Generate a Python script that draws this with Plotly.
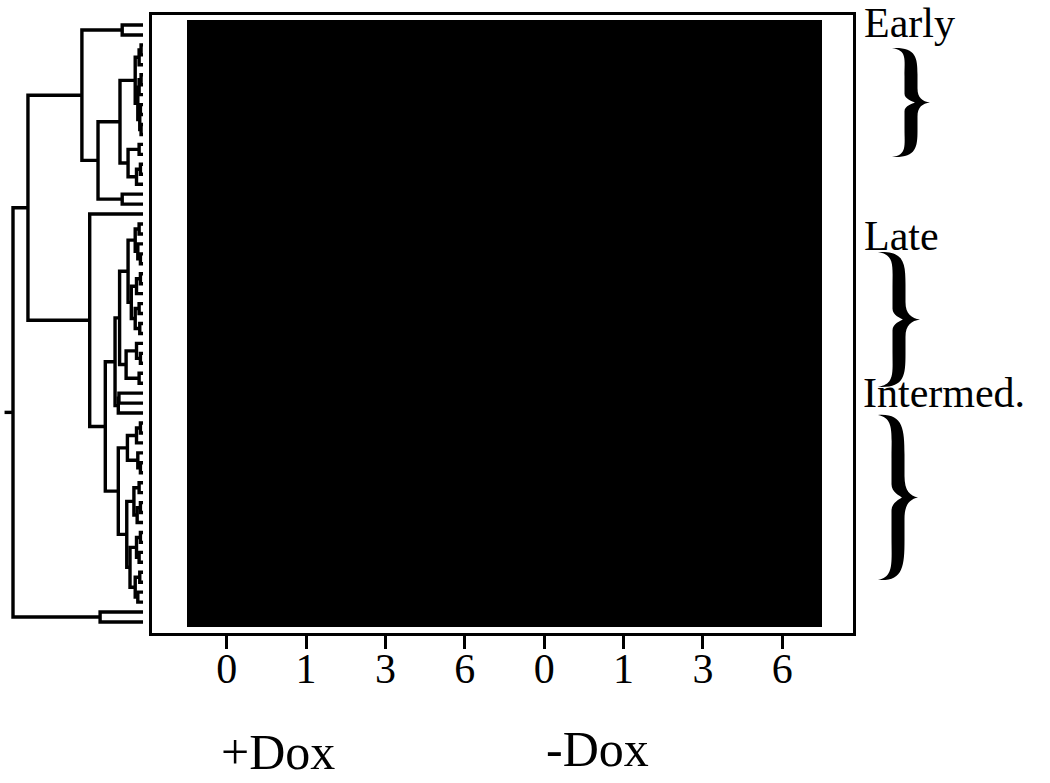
import plotly.graph_objects as go

# ---- data -------------------------------------------------------------
# time points (days) of the two treatment arms, in column order
TIME_LABELS = ["0", "1", "3", "6", "0", "1", "3", "6"]
TREATMENTS = ["+Dox", "-Dox"]
CLUSTER_NAMES = ["Early", "Late", "Intermed."]

# expression level shown in every cell (fully saturated)
CELL_LEVEL = 1.0

# gene tree: each node is [merge distance, upper child, lower child]; 0 = one gene
EARLY_TOP = [0.16, 0, 0]
EARLY_A = [0.06,
           [0.03, [0.015, 0, 0], 0],
           [0.04, [0.03, [0.015, 0, 0], 0], [0.025, [0.02, 0, 0], [0.015, 0, 0]]]]
EARLY_B = [0.115, [0.03, 0, 0], [0.05, [0.02, 0, 0], 0]]
EARLY_C = [0.16, 0, 0]
EARLY = [0.47, EARLY_TOP, [0.346, [0.177, EARLY_A, EARLY_B], EARLY_C]]

LATE_P = [0.115,
          [0.06, [0.03, 0, 0], [0.04, 0, [0.02, 0, 0]]],
          [0.09, [0.05, [0.02, 0, 0], 0], [0.06, [0.03, 0, 0], [0.025, 0, 0]]]]
LATE_Q = [0.13, [0.05, 0, [0.02, 0, 0]], [0.03, 0, 0]]
LATE_R = [0.19, [0.185, 0, 0], 0]
LATE = [0.215, [0.18, LATE_P, LATE_Q], LATE_R]

INTER_R = [0.12, [0.05, [0.02, 0, 0], 0], [0.04, 0, [0.02, 0, 0]]]
INTER_S = [0.125,
           [0.07, [0.03, 0, 0], [0.045, [0.02, 0, 0], 0]],
           [0.1, [0.05, [0.02, 0, 0], [0.03, 0, 0]], [0.06, [0.025, 0, 0], [0.04, 0, 0]]]]
INTERMED = [0.19, INTER_R, INTER_S]

OUTLIERS = [0.33, 0, 0]
TREE = [1.0, [0.885, EARLY, [0.41, 0, [0.29, LATE, INTERMED]]], OUTLIERS]


# ---- dendrogram geometry ----------------------------------------------
def walk(node, counter, xs, ys):
    """Place leaves top to bottom; return (row position, merge distance)."""
    if node == 0:
        pos = counter[0]
        counter[0] += 1
        return pos, 0.0
    h, upper, lower = node
    y1, h1 = walk(upper, counter, xs, ys)
    y2, h2 = walk(lower, counter, xs, ys)
    xs += [h1, h, h, h2, None]
    ys += [y1, y1, y2, y2, None]
    return (y1 + y2) / 2.0, h


seg_x, seg_y = [], []
leaf_counter = [0]
root_y, root_h = walk(TREE, leaf_counter, seg_x, seg_y)
n_genes = leaf_counter[0]
seg_x += [root_h, root_h + 0.065, None]
seg_y += [root_y, root_y, None]

z = [[CELL_LEVEL] * len(TIME_LABELS) for _ in range(n_genes)]

# ---- figure geometry (pixels) -----------------------------------------
W, H = 1050, 783
BOX_L, BOX_R, BOX_T, BOX_B = 152, 853, 15, 633
MAP_L, MAP_R, MAP_T, MAP_B = 187, 822, 20, 627
col_w = (MAP_R - MAP_L) / len(TIME_LABELS)
row_h = (MAP_B - MAP_T) / n_genes

x_range = [-0.5 - (MAP_L - BOX_L) / col_w, len(TIME_LABELS) - 0.5 + (BOX_R - MAP_R) / col_w]
y_range = [n_genes - 0.5 + (BOX_B - MAP_B) / row_h, -0.5 - (MAP_T - BOX_T) / row_h]

FONT = "Liberation Serif"

fig = go.Figure()
fig.add_trace(go.Heatmap(
    z=z, x=list(range(len(TIME_LABELS))), y=list(range(n_genes)),
    colorscale=[[0, "#000000"], [1, "#000000"]], zmin=0, zmax=1,
    showscale=False, hoverinfo="skip", xaxis="x", yaxis="y"))
fig.add_trace(go.Scatter(
    x=seg_x, y=seg_y, mode="lines", line=dict(color="black", width=3.4),
    hoverinfo="skip", showlegend=False, xaxis="x2", yaxis="y"))


def px_x(p):
    return p / W


def px_y(p):
    return 1 - p / H


def brace_path(x0, yt, yb, w, t):
    """Filled curly brace '}' with its point to the right."""
    h = yb - yt
    ym = (yt + yb) / 2
    xs = x0 + 0.5 * w
    pts = [
        ("M", [(x0, yt)]),
        ("C", [(x0 + 0.62 * w, yt - 0.01 * h), (xs + t, yt + 0.08 * h), (xs + t, yt + 0.24 * h)]),
        ("L", [(xs + t, ym - 0.13 * h)]),
        ("C", [(xs + t, ym - 0.04 * h), (x0 + 0.8 * w, ym - 0.01 * h), (x0 + w, ym)]),
        ("C", [(x0 + 0.8 * w, ym + 0.01 * h), (xs + t, ym + 0.04 * h), (xs + t, ym + 0.13 * h)]),
        ("L", [(xs + t, yb - 0.24 * h)]),
        ("C", [(xs + t, yb - 0.08 * h), (x0 + 0.62 * w, yb + 0.01 * h), (x0, yb)]),
        ("C", [(x0 + 0.4 * w, yb - 0.02 * h), (xs - t, yb - 0.1 * h), (xs - t, yb - 0.26 * h)]),
        ("L", [(xs - t, ym + 0.08 * h)]),
        ("C", [(xs - t, ym + 0.03 * h), (xs + 0.3 * t, ym + 0.01 * h), (xs + 0.6 * t, ym)]),
        ("C", [(xs + 0.3 * t, ym - 0.01 * h), (xs - t, ym - 0.03 * h), (xs - t, ym - 0.08 * h)]),
        ("L", [(xs - t, yt + 0.26 * h)]),
        ("C", [(xs - t, yt + 0.1 * h), (x0 + 0.4 * w, yt + 0.02 * h), (x0, yt)]),
    ]
    out = []
    for cmd, coords in pts:
        out.append(cmd + " " + " ".join(f"{px_x(a):.5f},{px_y(b):.5f}" for a, b in coords))
    return " ".join(out) + " Z"


BRACES = [(892, 48, 157, 38), (878, 252, 387, 42), (878, 415, 580, 40)]
LABEL_POS = [(862, 23), (862, 236), (861, 393)]

shapes = []
annotations = []
for name, (bx, bt, bb, bw), (lx, ly) in zip(CLUSTER_NAMES, BRACES, LABEL_POS):
    shapes.append(dict(type="path", path=brace_path(bx, bt, bb, bw, 6.5),
                       xref="paper", yref="paper", fillcolor="black",
                       line=dict(width=0), layer="above"))
    annotations.append(dict(text=name, xref="paper", yref="paper",
                            x=px_x(lx), y=px_y(ly), xanchor="left", yanchor="middle",
                            showarrow=False, font=dict(family=FONT, size=42, color="black")))

for name, cx, cy in zip(TREATMENTS, [0.65, 4.67], [752, 749]):
    annotations.append(dict(text=name, xref="x", yref="paper", x=cx, y=px_y(cy),
                            xanchor="center", yanchor="middle", showarrow=False,
                            font=dict(family=FONT, size=50, color="black")))

fig.update_layout(
    width=W, height=H,
    margin=dict(l=0, r=0, t=0, b=0, pad=0),
    paper_bgcolor="white", plot_bgcolor="rgba(0,0,0,0)",
    showlegend=False,
    xaxis=dict(domain=[BOX_L / W, BOX_R / W], range=x_range, anchor="y",
               tickmode="array", tickvals=list(range(len(TIME_LABELS))), ticktext=TIME_LABELS,
               ticks="outside", ticklen=13, tickwidth=2.5, tickcolor="black",
               ticklabelstandoff=-16,
               tickfont=dict(family=FONT, size=42, color="black"),
               showline=True, mirror=True, linecolor="black", linewidth=2.5,
               showgrid=False, zeroline=False, fixedrange=True),
    yaxis=dict(domain=[1 - BOX_B / H, 1 - BOX_T / H], range=y_range, anchor="x",
               showticklabels=False, ticks="",
               showline=True, mirror=True, linecolor="black", linewidth=2.5,
               showgrid=False, zeroline=False, fixedrange=True),
    xaxis2=dict(domain=[0, 150 / W], range=[1.1, -0.0538], anchor="y",
                visible=False, fixedrange=True),
    shapes=shapes,
    annotations=annotations,
)

fig.write_html("out.html")
